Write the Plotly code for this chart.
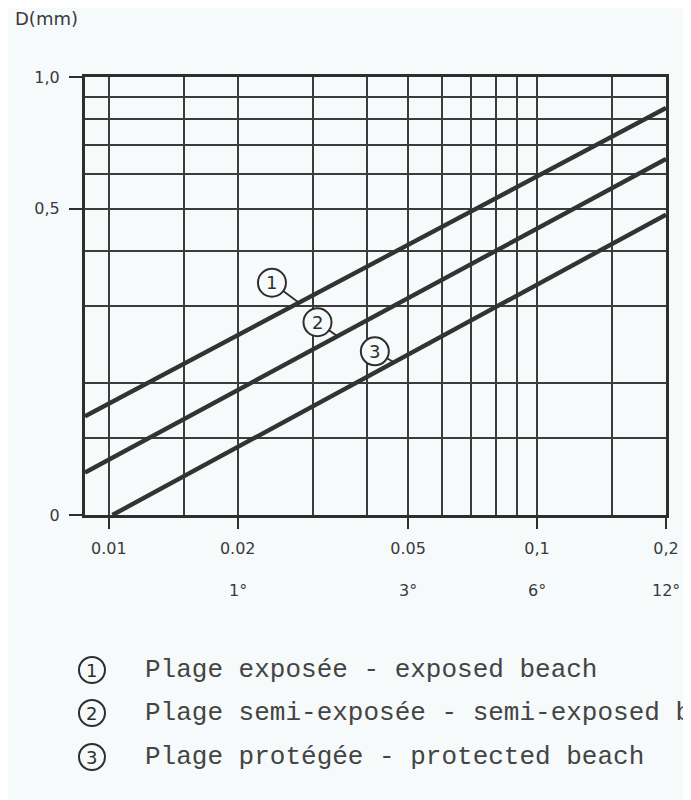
import numpy as np
import plotly.graph_objects as go

# ---------------- data ----------------
slope_1 = [0.0088, 0.2]
d_1 = [0.168, 0.85]
slope_2 = [0.0088, 0.2]
d_2 = [0.125, 0.65]
slope_3 = [0.0102, 0.2]
d_3 = [0.10, 0.485]

series_ids = ["1", "2", "3"]
series_names = [
    "Plage exposée - exposed beach",
    "Plage semi-exposée - semi-exposed beach",
    "Plage protégée - protected beach",
]

x_tickvals = [0.01, 0.02, 0.05, 0.1, 0.2]
x_ticktext = ["0.01", "0.02", "0.05", "0,1", "0,2"]
x_minor = [0.015, 0.03, 0.04, 0.06, 0.07, 0.08, 0.09, 0.15]
angle_vals = [0.02, 0.05, 0.1, 0.2]
angle_text = ["1°", "3°", "6°", "12°"]

y_tickvals = [0.1, 0.5, 1.0]
y_ticktext = ["0", "0,5", "1,0"]
y_minor = [0.15, 0.2, 0.3, 0.4, 0.6, 0.7, 0.8, 0.9]

label_x = [0.0278, 0.0342, 0.0463]

# ---------------- styling ----------------
BG = "#f6fafa"
INK = "#2e2e2e"
GRID = "#3c3c3c"
TICKFONT = dict(family="DejaVu Sans", size=16, color="#3a3a3a")

X_RANGE = [np.log10(0.0088), np.log10(0.2)]
Y_RANGE = [-1.0, 0.0]


def to_paper_x(v):
    return (np.log10(v) - X_RANGE[0]) / (X_RANGE[1] - X_RANGE[0])


def to_paper_y(v):
    return (np.log10(v) - Y_RANGE[0]) / (Y_RANGE[1] - Y_RANGE[0])


fig = go.Figure()
xs = [slope_1, slope_2, slope_3]
ds = [d_1, d_2, d_3]
for sx, sd, name in zip(xs, ds, series_names):
    fig.add_trace(go.Scatter(x=sx, y=sd, mode="lines", name=name,
                             line=dict(color="#333333", width=4.4),
                             showlegend=False, hoverinfo="skip"))

shapes = []
annotations = []

# circled labels on the curves (offsets in pixels from the curve point)
offsets = [(-27, 20), (-20, 14), (-19, 11)]
R = 14
for sx, sd, lx, (dx, dy), sid in zip(xs, ds, label_x, offsets, series_ids):
    ly = 10 ** np.interp(np.log10(lx), np.log10(sx), np.log10(sd))
    xp, yp = to_paper_x(lx), to_paper_y(ly)
    L = (dx ** 2 + dy ** 2) ** 0.5
    f = (L - R) / L
    shapes.append(dict(type="line", xref="paper", yref="paper", xsizemode="pixel",
                       ysizemode="pixel", xanchor=xp, yanchor=yp,
                       x0=0, y0=0, x1=dx * f, y1=dy * f,
                       line=dict(color=INK, width=1.8)))
    shapes.append(dict(type="circle", xref="paper", yref="paper", xsizemode="pixel",
                       ysizemode="pixel", xanchor=xp, yanchor=yp,
                       x0=dx - R, x1=dx + R, y0=dy - R, y1=dy + R,
                       line=dict(color=INK, width=2), fillcolor=BG))
    annotations.append(dict(x=xp, y=yp, xref="paper", yref="paper",
                            xanchor="center", yanchor="middle",
                            xshift=dx, yshift=dy, text=sid, showarrow=False,
                            font=dict(family="DejaVu Sans", size=18, color=INK)))

# second row of x labels (angles)
for v, t in zip(angle_vals, angle_text):
    annotations.append(dict(x=np.log10(v), y=0, xref="x", yref="paper",
                            xanchor="center", yanchor="middle",
                            yshift=-75, text=t, showarrow=False, font=TICKFONT))

# axis title
annotations.append(dict(x=0, y=1, xref="paper", yref="paper", xanchor="left", yanchor="middle",
                        xshift=-72, yshift=59, text="D(mm)", showarrow=False,
                        font=dict(family="DejaVu Sans", size=18, color="#3a3a3a")))

# legend block below the plot
PW, PH = 583.0, 438.0
leg_y = [670, 713, 757]
for sid, name, py in zip(series_ids, series_names, leg_y):
    yp = (515 - py) / PH
    xc = (92 - 85) / PW
    shapes.append(dict(type="circle", xref="paper", yref="paper", xsizemode="pixel",
                       ysizemode="pixel", xanchor=xc, yanchor=yp,
                       x0=-13, x1=13, y0=-13, y1=13, line=dict(color=INK, width=2)))
    annotations.append(dict(x=xc, y=yp, xref="paper", yref="paper",
                            xanchor="center", yanchor="middle",
                            text=sid, showarrow=False,
                            font=dict(family="DejaVu Sans", size=18, color=INK)))
    annotations.append(dict(x=(143 - 85) / PW, y=yp, xref="paper", yref="paper",
                            xanchor="left", yanchor="middle", text=name, showarrow=False,
                            font=dict(family="Liberation Mono", size=26, color="#444444")))

fig.update_layout(
    width=683, height=792,
    margin=dict(l=77, r=23, t=69, b=285),
    paper_bgcolor=BG, plot_bgcolor=BG,
    shapes=shapes, annotations=annotations,
    showlegend=False,
)
fig.update_xaxes(
    type="log", range=X_RANGE,
    tickvals=x_tickvals, ticktext=x_ticktext, tickfont=TICKFONT,
    ticks="outside", ticklen=11, tickwidth=2, tickcolor=INK, ticklabelstandoff=6,
    showgrid=True, gridcolor=GRID, gridwidth=1.8,
    minor=dict(tickvals=x_minor, showgrid=True, gridcolor=GRID, gridwidth=1.8, ticks=""),
    showline=True, mirror=True, linecolor=INK, linewidth=3, zeroline=False,
)
fig.update_yaxes(
    type="log", range=Y_RANGE,
    tickvals=y_tickvals, ticktext=y_ticktext, tickfont=TICKFONT,
    ticks="outside", ticklen=13, tickwidth=2, tickcolor=INK, ticklabelstandoff=6,
    showgrid=True, gridcolor=GRID, gridwidth=1.8,
    minor=dict(tickvals=y_minor, showgrid=True, gridcolor=GRID, gridwidth=1.8, ticks=""),
    showline=True, mirror=True, linecolor=INK, linewidth=3, zeroline=False,
)

fig.write_html("out.html")
